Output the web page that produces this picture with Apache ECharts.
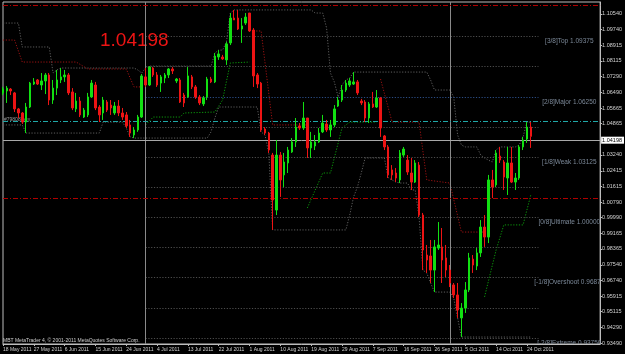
<!DOCTYPE html>
<html><head><meta charset="utf-8">
<script src="https://cdn.jsdelivr.net/npm/echarts@6/dist/echarts.min.js"></script>
<style>html,body{margin:0;padding:0;background:#000;}#c{width:625px;height:354px;}</style>
</head><body><div id="c"></div>
<script>
// ---- data ----
const opens = [1.0645,1.0655,1.0665,1.0645,1.0562,1.0541,1.0494,1.0572,1.0691,1.0712,
1.0686,1.0707,1.0738,1.0608,1.0670,1.0712,1.0728,1.0738,1.0650,1.0562,
1.0603,1.0520,1.0531,1.0624,1.0686,1.0572,1.0541,1.0598,1.0582,1.0541,
1.0577,1.0541,1.0531,1.0479,1.0427,1.0453,1.0520,1.0728,1.0686,1.0774,
1.0738,1.0696,1.0722,1.0738,1.0769,1.0707,1.0712,1.0634,1.0624,1.0728,
1.0676,1.0624,1.0588,1.0624,1.0717,1.0702,1.0831,1.0831,1.0816,1.0904,
1.1033,1.1033,1.0976,1.1007,1.1059,1.0971,1.0738,1.0696,1.0458,1.0437,
1.0323,1.0038,1.0323,1.0220,1.0282,1.0339,1.0391,1.0474,1.0463,1.0515,
1.0360,1.0370,1.0391,1.0443,1.0484,1.0453,1.0479,1.0577,1.0608,1.0660,
1.0686,1.0691,1.0702,1.0603,1.0598,1.0515,1.0588,1.0572,1.0619,1.0422,
1.0365,1.0246,1.0230,1.0194,1.0323,1.0297,1.0230,1.0183,1.0271,1.0012,
0.9805,0.9800,0.9727,0.9841,0.9847,0.9790,0.9727,0.9650,0.9598,0.9479,
0.9530,0.9624,0.9784,0.9748,0.9816,0.9950,0.9898,1.0194,1.0168,1.0318,
1.0287,1.0204,1.0282,1.0183,1.0204,1.0365,1.0406,1.0468];
const closes = [1.0665,1.0670,1.0655,1.0562,1.0541,1.0494,1.0572,1.0696,1.0702,1.0691,
1.0707,1.0738,1.0608,1.0670,1.0712,1.0728,1.0738,1.0645,1.0567,1.0603,
1.0531,1.0556,1.0624,1.0696,1.0567,1.0531,1.0608,1.0556,1.0567,1.0577,
1.0541,1.0520,1.0474,1.0437,1.0453,1.0520,1.0733,1.0686,1.0779,1.0738,
1.0686,1.0728,1.0738,1.0769,1.0759,1.0717,1.0598,1.0593,1.0733,1.0676,
1.0624,1.0593,1.0619,1.0717,1.0702,1.0836,1.0847,1.0821,1.0899,1.1033,
1.1023,1.0976,1.0992,1.1038,1.0966,1.0733,1.0691,1.0453,1.0437,1.0349,
1.0090,1.0323,1.0194,1.0287,1.0349,1.0391,1.0468,1.0463,1.0515,1.0360,
1.0391,1.0391,1.0437,1.0489,1.0453,1.0479,1.0562,1.0608,1.0660,1.0696,
1.0707,1.0702,1.0645,1.0593,1.0515,1.0588,1.0572,1.0619,1.0463,1.0365,
1.0220,1.0220,1.0204,1.0334,1.0354,1.0235,1.0183,1.0282,1.0012,0.9831,
0.9779,0.9727,0.9847,0.9857,0.9779,0.9727,0.9660,0.9598,0.9520,0.9530,
0.9624,0.9790,0.9753,0.9816,0.9950,0.9898,1.0194,1.0157,1.0334,1.0297,
1.0209,1.0282,1.0183,1.0204,1.0365,1.0401,1.0468,1.04198];
const lows = [1.0634,1.0593,1.0634,1.0546,1.0515,1.0484,1.0437,1.0567,1.0686,1.0686,
1.0660,1.0639,1.0582,1.0588,1.0634,1.0696,1.0702,1.0634,1.0556,1.0546,
1.0520,1.0515,1.0520,1.0619,1.0556,1.0494,1.0505,1.0546,1.0531,1.0531,
1.0525,1.0505,1.0463,1.0417,1.0411,1.0443,1.0515,1.0676,1.0681,1.0728,
1.0676,1.0650,1.0696,1.0722,1.0743,1.0696,1.0593,1.0572,1.0619,1.0665,
1.0614,1.0582,1.0577,1.0608,1.0696,1.0696,1.0816,1.0816,1.0790,1.0893,
1.1023,1.0971,1.0904,1.0997,1.0961,1.0676,1.0670,1.0443,1.0427,1.0334,
0.9935,1.0012,1.0106,1.0157,1.0230,1.0334,1.0365,1.0453,1.0453,1.0308,
1.0308,1.0349,1.0386,1.0437,1.0443,1.0417,1.0468,1.0572,1.0598,1.0650,
1.0676,1.0686,1.0634,1.0582,1.0494,1.0489,1.0567,1.0567,1.0417,1.0349,
1.0204,1.0194,1.0183,1.0178,1.0313,1.0220,1.0142,1.0178,1.0002,0.9727,
0.9712,0.9660,0.9613,0.9831,0.9660,0.9691,0.9639,0.9582,0.9479,0.9380,
0.9505,0.9613,0.9712,0.9727,0.9795,0.9847,0.9867,1.0100,1.0157,1.0282,
1.0142,1.0116,1.0178,1.0142,1.0194,1.0349,1.0386,1.0360];
const highs = [1.0676,1.0681,1.0670,1.0650,1.0567,1.0546,1.0593,1.0702,1.0722,1.0717,
1.0748,1.0748,1.0748,1.0712,1.0764,1.0774,1.0764,1.0748,1.0670,1.0645,
1.0624,1.0567,1.0645,1.0712,1.0702,1.0582,1.0624,1.0608,1.0608,1.0598,
1.0608,1.0567,1.0546,1.0505,1.0468,1.0531,1.0743,1.0774,1.0784,1.0779,
1.0753,1.0738,1.0748,1.0774,1.0779,1.0722,1.0722,1.0645,1.0779,1.0738,
1.0686,1.0634,1.0629,1.0728,1.0728,1.0852,1.0867,1.0842,1.0909,1.1059,
1.1075,1.1075,1.1033,1.1059,1.1059,1.0981,1.0748,1.0702,1.0468,1.0443,
1.0334,1.0401,1.0339,1.0334,1.0365,1.0411,1.0515,1.0489,1.0598,1.0515,
1.0443,1.0427,1.0463,1.0531,1.0505,1.0505,1.0582,1.0624,1.0686,1.0712,
1.0722,1.0753,1.0712,1.0614,1.0608,1.0598,1.0650,1.0660,1.0624,1.0427,
1.0375,1.0271,1.0256,1.0349,1.0365,1.0323,1.0308,1.0297,1.0287,1.0023,
0.9857,0.9883,0.9883,0.9976,0.9945,0.9857,0.9753,0.9660,0.9660,0.9556,
0.9665,0.9816,0.9805,0.9841,0.9986,1.0012,1.0220,1.0246,1.0349,1.0365,
1.0297,1.0365,1.0365,1.0230,1.0375,1.0417,1.0494,1.0494];

// channel values carried in from bars before the first visible bar
const channelHighPrior = [1.1007,1.1007,1.1007,1.1007,1.1007,1.0883,1.0883,1.0883,1.0883,1.0883,1.0883,1.0883,1.0883];
const channelLowPrior = [1.0479,1.0479,1.0479,1.0479,1.0479,1.0479];
const channelPeriod = 20;

// trailing stop lines: [bar index, price]
const redStop1 = [[0,1.0919],[3,1.0919],[5,1.0805],[19,1.0805],[22,1.0769],[32,1.0769],[34,1.0676],[36,1.0676]];
const redStop2 = [[65,1.0966],[67,1.0966],[70,1.0479],[79,1.0479]];
const redStop3 = [[98,1.0717],[101,1.0494],[108,1.0494],[110,1.0194],[116,1.0178],[119,0.9924],[125,0.9924]];
const greenStop1 = [[37,1.0479],[39,1.0520],[46,1.0520],[47,1.0541],[55,1.0546],[57,1.0608],[59,1.0800],[64,1.0805]];
const greenStop2 = [[79,1.0049],[83,1.0230],[85,1.0230],[88,1.0463],[90,1.0494],[97,1.0494]];
const greenStop3 = [[125,0.9588],[128,0.9831],[130,0.9961],[135,0.9961],[137,1.0116]];

const murreyLevels = [1.09375,1.078125,1.0625,1.046875,1.03125,1.015625,1.0,0.984375,0.96875,0.953125,0.9375];
const murreyLabelValues = [1.09375,1.0625,1.03125,1.0,0.96875,0.9375];
const murreyLabelTexts = ['[3/8]Top 1.09375','[2/8]Major 1.06250','[1/8]Weak 1.03125','[0/8]Ultimate 1.00000','[-1/8]Overshoot 0.96875','[-2/8]Extreme 0.93750'];
const redLevelTop = 1.1092;
const redLevelLow = 1.0120;
const orderLevel = 1.0484;
const orderText = '#79808 buy';
const priceTicks = [1.10540,1.09740,1.08915,1.08115,1.07290,1.06490,1.05665,1.04865,1.03240,1.02415,1.01615,1.00790,0.99990,0.99165,0.98365,0.97540,0.96740,0.95915,0.95115,0.94290,0.93490];
const firstDate = '2011-05-18';
const totalSlots = 156;        // bars plus empty shift space on the right
const dateLabelEvery = 8;
const lastLabelBar = 136;
const yMin = 0.93439, yMax = 1.11161;

// ---- build ----
const MON = ['Jan','Feb','Mar','Apr','May','Jun','Jul','Aug','Sep','Oct','Nov','Dec'];
const cats = [];
let d = new Date(firstDate + 'T00:00:00Z');
while (cats.length < totalSlots) {
  if (d.getUTCDay() !== 6) cats.push(d.getUTCDate() + ' ' + MON[d.getUTCMonth()] + ' ' + d.getUTCFullYear());
  d = new Date(d.getTime() + 86400000);
}
const n = opens.length;
const candles = opens.map((o, i) => [o, closes[i], lows[i], highs[i]]);
const chHigh = [], chLow = [];
for (let i = 0; i < n; i++) {
  let hi = channelHighPrior[i] != null ? channelHighPrior[i] : -Infinity;
  let lo = channelLowPrior[i] != null ? channelLowPrior[i] : Infinity;
  for (let k = Math.max(0, i - channelPeriod + 1); k <= i; k++) { hi = Math.max(hi, highs[k]); lo = Math.min(lo, lows[k]); }
  chHigh.push(hi); chLow.push(lo);
}
const lastClose = closes[n - 1];
const levelStart = 37, levelEnd = 139, labelBar = 147;
const dotted = [1.2, 1.6];
const dashDot = [5, 2, 1, 2];

const levelLines = murreyLevels.map(v => [
  {coord: [cats[levelStart], v], lineStyle: {color: v === 1.0625 ? '#2b4d86' : '#4d4d4d', type: dotted, width: 1}},
  {coord: [cats[levelEnd], v]}
]);

const stopSeries = (data, color) => ({
  type: 'line', data: data, symbol: 'none', silent: true, z: 3,
  lineStyle: {color: color, width: 1, type: dotted}
});

const chart = echarts.init(document.getElementById('c'), null, {renderer: 'canvas'});
chart.setOption({
  backgroundColor: '#000000',
  animation: false,
  grid: {left: 2, right: 18, top: 2, bottom: 10, show: true, borderColor: '#bdbdbd', borderWidth: 1, backgroundColor: '#000'},
  xAxis: {
    type: 'category', data: cats, boundaryGap: false,
    axisLine: {show: true, lineStyle: {color: '#bdbdbd'}},
    axisTick: {show: true, length: 2, interval: i => i % dateLabelEvery === 0 && i <= lastLabelBar, lineStyle: {color: '#bdbdbd'}},
    axisLabel: {interval: i => i % dateLabelEvery === 0 && i <= lastLabelBar, color: '#d0d0d0', fontSize: 5, fontFamily: 'Liberation Sans, Arial', align: 'left', margin: 3},
    splitLine: {show: false}
  },
  yAxis: {
    type: 'value', position: 'right', min: yMin, max: yMax, scale: true,
    axisLine: {show: true, lineStyle: {color: '#bdbdbd'}},
    axisTick: {show: true, length: 2, customValues: priceTicks, lineStyle: {color: '#bdbdbd'}},
    axisLabel: {customValues: priceTicks, formatter: v => v.toFixed(5), color: '#d0d0d0', fontSize: 5.5, fontFamily: 'Liberation Sans, Arial', margin: 2},
    splitLine: {show: false}
  },
  graphic: [
    {type: 'text', left: 100, top: 31, silent: true, style: {text: lastClose.toFixed(5), fill: '#ee1414', font: '19px "Liberation Sans", Arial'}},
    {type: 'text', left: 3, top: 338, silent: true, style: {text: 'MBT MetaTrader 4, \u00a9 2001-2011 MetaQuotes Software Corp.', fill: '#cfcfcf', font: '5px "Liberation Sans", Arial'}},
    {type: 'text', left: 4, top: 117, silent: true, style: {text: orderText, fill: '#9a9a9a', font: '5px "Liberation Sans", Arial'}}
  ],
  series: [
    {
      type: 'line', data: chHigh, symbol: 'none', silent: true, z: 2,
      lineStyle: {color: '#5e5e5e', width: 1, type: dotted},
      markLine: {
        silent: true, symbol: ['none', 'none'], animation: false,
        label: {show: false},
        data: levelLines.concat([
          {xAxis: cats[37], lineStyle: {color: '#8a8a8a', type: 'solid', width: 1}},
          {xAxis: cats[116], lineStyle: {color: '#8a8a8a', type: 'solid', width: 1}},
          {yAxis: redLevelTop, lineStyle: {color: '#b00000', type: dashDot, width: 1}},
          {yAxis: redLevelLow, lineStyle: {color: '#b00000', type: dashDot, width: 1}},
          {yAxis: orderLevel, lineStyle: {color: '#1fa8a8', type: dashDot, width: 1}},
          {yAxis: lastClose, lineStyle: {color: '#a8a8a8', type: 'solid', width: 1},
           label: {show: true, position: 'end', distance: 1, formatter: lastClose.toFixed(5), backgroundColor: '#ffffff', color: '#000000', fontSize: 5.5, fontFamily: 'Liberation Sans, Arial', padding: [1, 2, 0, 1]}}
        ])
      }
    },
    {type: 'line', data: chLow, symbol: 'none', silent: true, z: 2, lineStyle: {color: '#5e5e5e', width: 1, type: dotted}},
    stopSeries(redStop1, '#9c1212'), stopSeries(redStop2, '#9c1212'), stopSeries(redStop3, '#9c1212'),
    stopSeries(greenStop1, '#0b9a0b'), stopSeries(greenStop2, '#0b9a0b'), stopSeries(greenStop3, '#0b9a0b'),
    {
      type: 'candlestick', data: candles, barWidth: 2, z: 5,
      itemStyle: {color: '#12e012', color0: '#ee1414', borderColor: '#12e012', borderColor0: '#ee1414', borderWidth: 1}
    },
    {
      type: 'custom', clip: true, z: 4, silent: true,
      data: murreyLabelValues.map(v => [labelBar, v]),
      renderItem: function (params, api) {
        const p = api.coord([api.value(0), api.value(1)]);
        return {type: 'text', x: p[0], y: p[1] + 1.5,
          style: {text: murreyLabelTexts[params.dataIndex], fill: '#7b8898', font: '6.5px "Liberation Sans", Arial', align: 'center', verticalAlign: 'top'}};
      }
    }
  ]
});
</script></body></html>
